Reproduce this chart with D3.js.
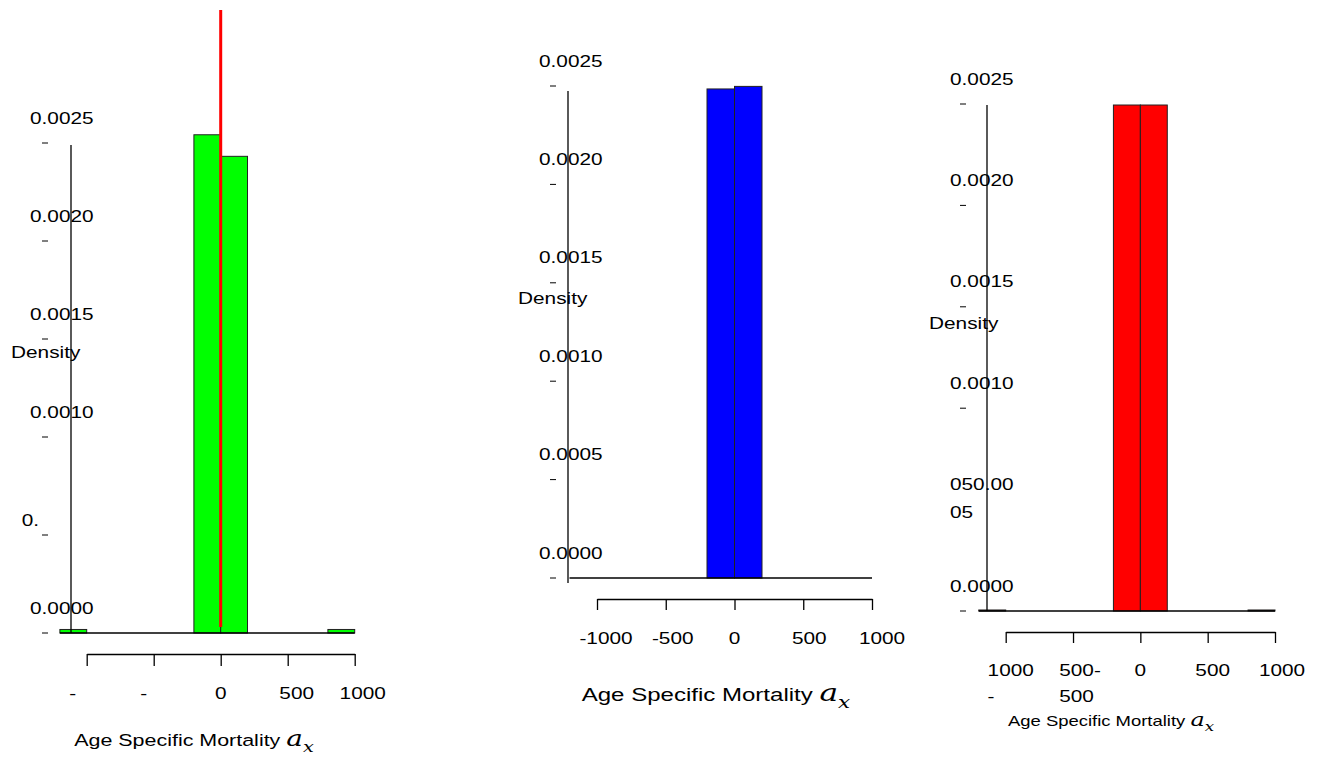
<!DOCTYPE html>
<html>
<head>
<meta charset="utf-8">
<script src="https://cdn.jsdelivr.net/npm/d3@7"></script>
<style>
  body { margin: 0; background: #fff; }
  svg text { font-family: "Liberation Sans", Arial, sans-serif; fill: #000; }
</style>
</head>
<body>
<div id="chart"></div>
<script>
// histogram bins (left edges), shared by the three panels
var binStarts = [-1200, -1000, -800, -600, -400, -200, 0, 200, 400, 600, 800];
var binWidth = 200;

// density per bin
var densityGreen = [0.000018, 0, 0, 0, 0, 0.002542, 0.002432, 0, 0, 0, 0.000018];
var densityBlue  = [0, 0, 0, 0, 0, 0.002485, 0.002498, 0, 0, 0, 0];
var densityRed   = [0.000005, 0, 0, 0, 0, 0.002495, 0.002495, 0, 0, 0, 0.000005];

// vertical marker in the first panel
var greenMean = 0;

var xTicks = [-1000, -500, 0, 500, 1000];
var yTicks = [0, 0.0005, 0.001, 0.0015, 0.002, 0.0025];

// tick labels as they appear (some are broken across lines)
var xLabelsGreen = [['-'], ['-'], ['0'], ['500'], ['1000']];
var xLabelsBlue  = [['-1000'], ['-500'], ['0'], ['500'], ['1000']];
var xLabelsRed   = [['1000', '-'], ['500-', '500'], ['0'], ['500'], ['1000']];

var yLabelsGreen = [['0.0000'], ['0.'], ['0.0010'], ['0.0015'], ['0.0020'], ['0.0025']];
var yLabelsBlue  = [['0.0000'], ['0.0005'], ['0.0010'], ['0.0015'], ['0.0020'], ['0.0025']];
var yLabelsRed   = [['0.0000'], ['050.00', '05'], ['0.0010'], ['0.0015'], ['0.0020'], ['0.0025']];

var yTitle = 'Density';
var xTitle = 'Age Specific Mortality ';

var W = 1321, H = 769;
var STRETCH = 1.3;

var svg = d3.select('#chart').append('svg').attr('width', W).attr('height', H);

// text in the picture is wider than normal, so each label sits in a stretched group
function addLabel(parent, x, y) {
  return parent.append('g')
    .attr('transform', 'translate(' + x + ',' + y + ') scale(' + STRETCH + ',1)');
}

var panels = [
  { values: densityGreen, fill: '#00ff00', xLabels: xLabelsGreen, yLabels: yLabelsGreen,
    xRange: [86.7, 354.7], yRange: [633, 143],
    yAxisX: 71, yAxisTop: 145, yAxisBottom: 633, dashX: 42, labelX: 30,
    xAxisY: 654, tickLen: 12, labelY: 693, rowGap: 27, labelDx: [-14, -10, 0, 9, 8],
    titleX: 194, titleY: 740, titleSize: 16.5, densX: 11, densY: 352 },
  { values: densityBlue, fill: '#0000ff', xLabels: xLabelsBlue, yLabels: yLabelsBlue,
    xRange: [597, 872], yRange: [578, 86],
    yAxisX: 568, yAxisTop: 91, yAxisBottom: 583, dashX: 550, labelX: 539,
    xAxisY: 599, tickLen: 11, labelY: 638, rowGap: 27, labelDx: [9, 7, 0, 6, 10],
    titleX: 716, titleY: 695, titleSize: 18.5, densX: 518, densY: 298 },
  { values: densityRed, fill: '#ff0000', xLabels: xLabelsRed, yLabels: yLabelsRed,
    xRange: [1005.7, 1275], yRange: [611, 104],
    yAxisX: 987, yAxisTop: 105, yAxisBottom: 611, dashX: 960, labelX: 950,
    xAxisY: 632, tickLen: 11, labelY: 670, rowGap: 26, labelDx: [5, 7, 0, 5, 7],
    titleX: 1111, titleY: 721, titleSize: 14.2, densX: 929, densY: 323 }
];

panels.forEach(function(p, pi) {
  var x = d3.scaleLinear().domain([-1000, 1000]).range(p.xRange);
  var y = d3.scaleLinear().domain([0, 0.0025]).range(p.yRange);
  var g = svg.append('g');

  // bars
  g.selectAll('rect.bar')
    .data(binStarts.filter(function(d, i) { return p.values[i] > 0; }))
    .enter().append('rect')
    .attr('class', 'bar')
    .attr('x', function(d) { return x(d); })
    .attr('width', function(d) { return x(d + binWidth) - x(d); })
    .attr('y', function(d) { return y(p.values[binStarts.indexOf(d)]); })
    .attr('height', function(d) { return y(0) - y(p.values[binStarts.indexOf(d)]); })
    .style('fill', p.fill)
    .style('stroke', '#222')
    .style('stroke-width', 1);

  // empty bins collapse onto the baseline
  g.append('line')
    .attr('x1', x(binStarts[0])).attr('x2', x(binStarts[binStarts.length - 1] + binWidth))
    .attr('y1', y(0)).attr('y2', y(0))
    .style('stroke', '#000').style('stroke-width', 1.3);

  // y axis line
  g.append('line')
    .attr('x1', p.yAxisX).attr('x2', p.yAxisX)
    .attr('y1', p.yAxisTop).attr('y2', p.yAxisBottom)
    .style('stroke', '#000').style('stroke-width', 1.3);

  // y ticks: little dashes with the labels above them
  yTicks.forEach(function(t, i) {
    var lines = p.yLabels[i];
    var ty = y(t);
    if (lines.length === 1 && lines[0].length < 3) {
      // short label sits left of its dash
      g.append('line').attr('x1', p.dashX).attr('x2', p.dashX + 6)
        .attr('y1', ty).attr('y2', ty).style('stroke', '#000').style('stroke-width', 1);
      addLabel(g, p.dashX - 3, ty - 15).append('text')
        .attr('text-anchor', 'end').attr('dy', '0.35em')
        .style('font-size', '16px').text(lines[0]);
      return;
    }
    if (lines.length === 1) {
      g.append('line').attr('x1', p.dashX).attr('x2', p.dashX + 6)
        .attr('y1', ty).attr('y2', ty).style('stroke', '#000').style('stroke-width', 1);
    }
    var lg = addLabel(g, p.labelX, ty - 25);
    lines.forEach(function(s, k) {
      lg.append('text').attr('text-anchor', 'start')
        .attr('y', k * 28).attr('dy', '0.35em')
        .style('font-size', '16px').text(s);
    });
  });

  // y title
  addLabel(g, p.densX, p.densY).append('text')
    .attr('text-anchor', 'start').attr('dy', '0.35em')
    .style('font-size', '16px').text(yTitle);

  // x axis
  var axis = d3.axisBottom(x).tickValues(xTicks)
    .tickSize(p.tickLen).tickSizeOuter(0).tickFormat('');
  var ax = g.append('g').attr('transform', 'translate(0,' + p.xAxisY + ')').call(axis);
  ax.selectAll('path, line').style('stroke', '#000').style('stroke-width', 1.3);

  xTicks.forEach(function(t, i) {
    var lines = p.xLabels[i];
    var lg = addLabel(g, x(t) + p.labelDx[i], p.labelY);
    if (lines.length === 1) {
      lg.append('text').attr('text-anchor', 'middle').attr('dy', '0.35em')
        .style('font-size', '16px').text(lines[0]);
    } else {
      var texts = lines.map(function(s, k) {
        return lg.append('text').attr('text-anchor', 'start')
          .attr('y', k * p.rowGap).attr('dy', '0.35em')
          .style('font-size', '16px').text(s);
      });
      var w0 = texts[0].node().getComputedTextLength();
      texts.forEach(function(tx) { tx.attr('x', -w0 / 2); });
    }
  });

  // x title with math a_x
  var tt = addLabel(g, p.titleX, p.titleY).append('text')
    .attr('text-anchor', 'middle').attr('dy', '0.35em')
    .style('font-size', p.titleSize + 'px');
  tt.append('tspan').text(xTitle);
  tt.append('tspan')
    .style('font-family', '"DejaVu Serif", "Liberation Serif", serif')
    .style('font-style', 'italic')
    .style('font-size', (p.titleSize * 1.3) + 'px')
    .text('a');
  tt.append('tspan')
    .style('font-family', '"DejaVu Serif", "Liberation Serif", serif')
    .style('font-style', 'italic')
    .style('font-size', (p.titleSize * 0.9) + 'px')
    .attr('dy', p.titleSize * 0.35)
    .text('x');

  // red marker line in the first panel
  if (pi === 0) {
    g.append('line')
      .attr('x1', x(greenMean)).attr('x2', x(greenMean))
      .attr('y1', 10).attr('y2', y(0) - 6)
      .style('stroke', '#ff0000').style('stroke-width', 3);
  }
});
</script>
</body>
</html>
